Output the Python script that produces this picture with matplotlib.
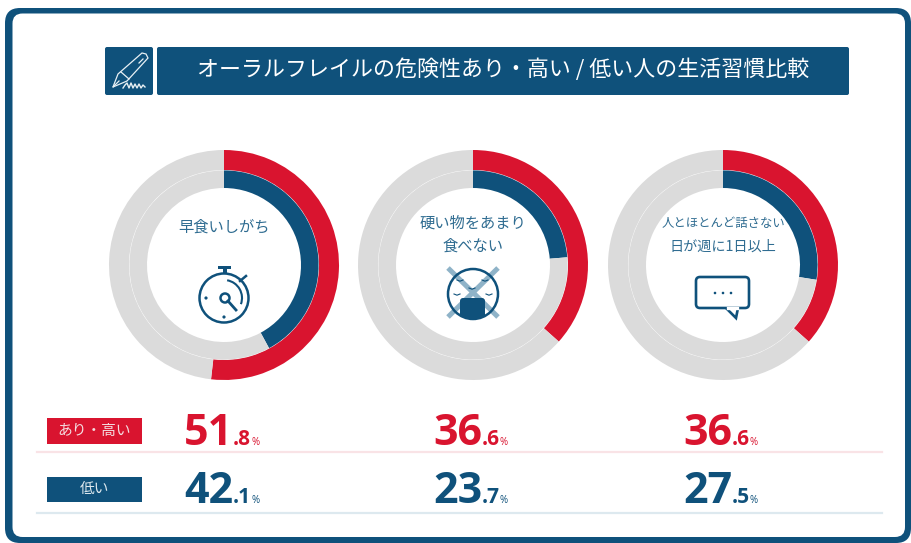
import matplotlib
matplotlib.use('Agg')
import matplotlib.pyplot as plt
from matplotlib.patches import FancyBboxPatch, Rectangle, Circle, Arc, Polygon

plt.rcParams['font.family'] = ['Noto Sans CJK JP', 'DejaVu Sans']

title = 'オーラルフレイルの危険性あり・高い / 低い人の生活習慣比較'
categories = ['早食いしがち', '硬い物をあまり\n食べない', '人とほとんど話さない', '日が週に1日以上']
series_names = ['あり・高い', '低い']
high_risk = [51.8, 36.6, 36.6]
low_risk = [42.1, 23.7, 27.5]

NAVY = '#0F517B'
RED = '#D9142F'
GRAY = '#DBDBDB'
TEXT = '#2F6C91'
PALE = '#8FB3C8'
ICON = '#E8F0F4'

W, H = 911, 543
centers = [224, 473, 723]
CY = 265
R = 115

fig = plt.figure(figsize=(W / 100, H / 100), dpi=100)

# frame sits behind the donuts
bg = fig.add_axes([0, 0, 1, 1])
bg.set_xlim(0, W)
bg.set_ylim(H, 0)
bg.axis('off')
bg.add_patch(FancyBboxPatch((5, 8), 906, 535, boxstyle='round,pad=0,rounding_size=15', fc=NAVY, ec='none'))
bg.add_patch(FancyBboxPatch((12.5, 13.5), 892.5, 523.5, boxstyle='round,pad=0,rounding_size=10', fc='white', ec='none'))


def donut(cx, cy, high, low):
    ax = fig.add_axes([(cx - R) / W, 1 - (cy + R) / H, 2 * R / W, 2 * R / H])
    ax.pie([high, 100 - high], radius=1.0, startangle=90, counterclock=False,
           colors=[RED, GRAY], wedgeprops=dict(width=20 / R, linewidth=0))
    ax.pie([low, 100 - low], radius=94.6 / R, startangle=90, counterclock=False,
           colors=[NAVY, GRAY], wedgeprops=dict(width=17.6 / R, linewidth=0))
    ax.set_xlim(-1, 1)
    ax.set_ylim(-1, 1)
    ax.axis('off')


for cx, a, b in zip(centers, high_risk, low_risk):
    donut(cx, CY, a, b)

# overlay in pixel coordinates
ax = fig.add_axes([0, 0, 1, 1])
ax.set_xlim(0, W)
ax.set_ylim(H, 0)
ax.axis('off')
ax.patch.set_alpha(0)

# header
ax.add_patch(FancyBboxPatch((105, 47), 48, 48, boxstyle='round,pad=0,rounding_size=2', fc=NAVY, ec='none'))
ax.add_patch(FancyBboxPatch((157, 47), 692, 48, boxstyle='round,pad=0,rounding_size=2', fc=NAVY, ec='none'))
ax.text(503.5, 70, title, color='white', fontsize=15.8, ha='center', va='center')

# pen icon
ax.add_patch(Polygon([(118, 74), (142, 53), (146, 54), (148, 58), (127, 81), (113, 87)],
                     closed=True, fc='none', ec=ICON, lw=0.9))
ax.plot([121, 129], [72, 79], color=ICON, lw=0.9)
ax.plot([139, 143], [63, 59], color=ICON, lw=0.9)
ax.plot([113, 119], [87, 81], color=ICON, lw=0.9)
ax.plot([123, 125, 127, 129, 131, 133, 135, 137, 139, 141, 143, 145],
        [88, 85, 83, 88, 83, 88, 84, 88, 84, 88, 85, 87], color=ICON, lw=1)

# category labels
ax.text(centers[0], 227, categories[0], color=TEXT, fontsize=11, ha='center', va='center')
ax.text(centers[1], 235, categories[1], color=TEXT, fontsize=11, ha='center', va='center', linespacing=1.45)
ax.text(centers[2], 223, categories[2], color=TEXT, fontsize=8.9, ha='center', va='center')
ax.text(centers[2], 247, categories[3], color=TEXT, fontsize=10.2, ha='center', va='center')

# stopwatch
ax.add_patch(Circle((224, 298), 24.5, fc='none', ec=NAVY, lw=1.8))
ax.add_patch(Rectangle((218, 266), 13, 3, fc=NAVY, ec='none'))
ax.add_patch(Rectangle((222.5, 268), 4, 5, fc=NAVY, ec='none'))
ax.plot([240, 246], [281, 276], color=NAVY, lw=1.8)
ax.add_patch(Circle((225, 298), 4.5, fc='none', ec=NAVY, lw=1.8))
ax.plot([228, 236], [301, 310], color=NAVY, lw=2)
ax.add_patch(Arc((224, 298), 36, 36, theta1=-80, theta2=20, ec=NAVY, lw=1.5))
ax.add_patch(Circle((206, 298), 1.6, fc=NAVY, ec='none'))
ax.add_patch(Circle((224, 317), 1.6, fc=NAVY, ec='none'))

# crossed-out face
ax.plot([448, 498], [268, 317], color=PALE, lw=3.6, solid_capstyle='butt', zorder=0.5)
ax.plot([498, 448], [268, 317], color=PALE, lw=3.6, solid_capstyle='butt', zorder=0.5)
ring = Circle((473, 294), 25, fc='none', ec=NAVY, lw=1.8)
ax.add_patch(ring)
box = FancyBboxPatch((460, 298), 25, 24, boxstyle='round,pad=0,rounding_size=3', fc=NAVY, ec='none')
ax.add_patch(box)
box.set_clip_path(ring)
for ex, ey in [(460, 280), (485, 280), (472, 288), (457, 294), (489, 294)]:
    ax.plot([ex - 3, ex, ex + 3], [ey, ey + 1.2, ey], color=NAVY, lw=0.8)

# speech bubble
ax.add_patch(FancyBboxPatch((696, 277), 53, 31, boxstyle='round,pad=0,rounding_size=4',
                            fc='none', ec=NAVY, lw=1.9))
ax.add_patch(Polygon([(726, 308), (736, 318), (738, 308)], closed=False, fc='white', ec=NAVY, lw=1.9))
ax.plot([727.5, 736.8], [308, 308], color='white', lw=2.4)
for dx in (715, 723, 731):
    ax.add_patch(Circle((dx, 293), 1.3, fc=NAVY, ec='none'))

# rows
rows = [(high_risk, RED, 418, 26, 445, 452, '#F9E3E6', '#F4DDE0'),
        (low_risk, NAVY, 477, 25, 503, 512.5, '#DDE9EF', '#DCE8EE')]
for name, (vals, col, top, hgt, base, rule_y, rule_col, lab_col) in zip(series_names, rows):
    ax.add_patch(Rectangle((47, top), 95, hgt, fc=col, ec='none'))
    ax.text(94.5, top + hgt / 2, name, color=lab_col, fontsize=10.6, ha='center', va='center')
    ax.plot([37, 882], [rule_y, rule_y], color=rule_col, lw=1.6)
    for cx, v in zip(centers, vals):
        whole, frac = f'{v:.1f}'.split('.')
        ax.text(cx + 9, base, whole, color=col, fontsize=31, fontweight='bold',
                family='Open Sans', ha='right', va='baseline')
        ax.text(cx + 9, base, '.' + frac, color=col, fontsize=15, fontweight='bold',
                family='Open Sans', ha='left', va='baseline')
        ax.text(cx + 27, base, '%', color=col, fontsize=7, family='Open Sans', ha='left', va='baseline')

fig.savefig('out.png', dpi=100)
